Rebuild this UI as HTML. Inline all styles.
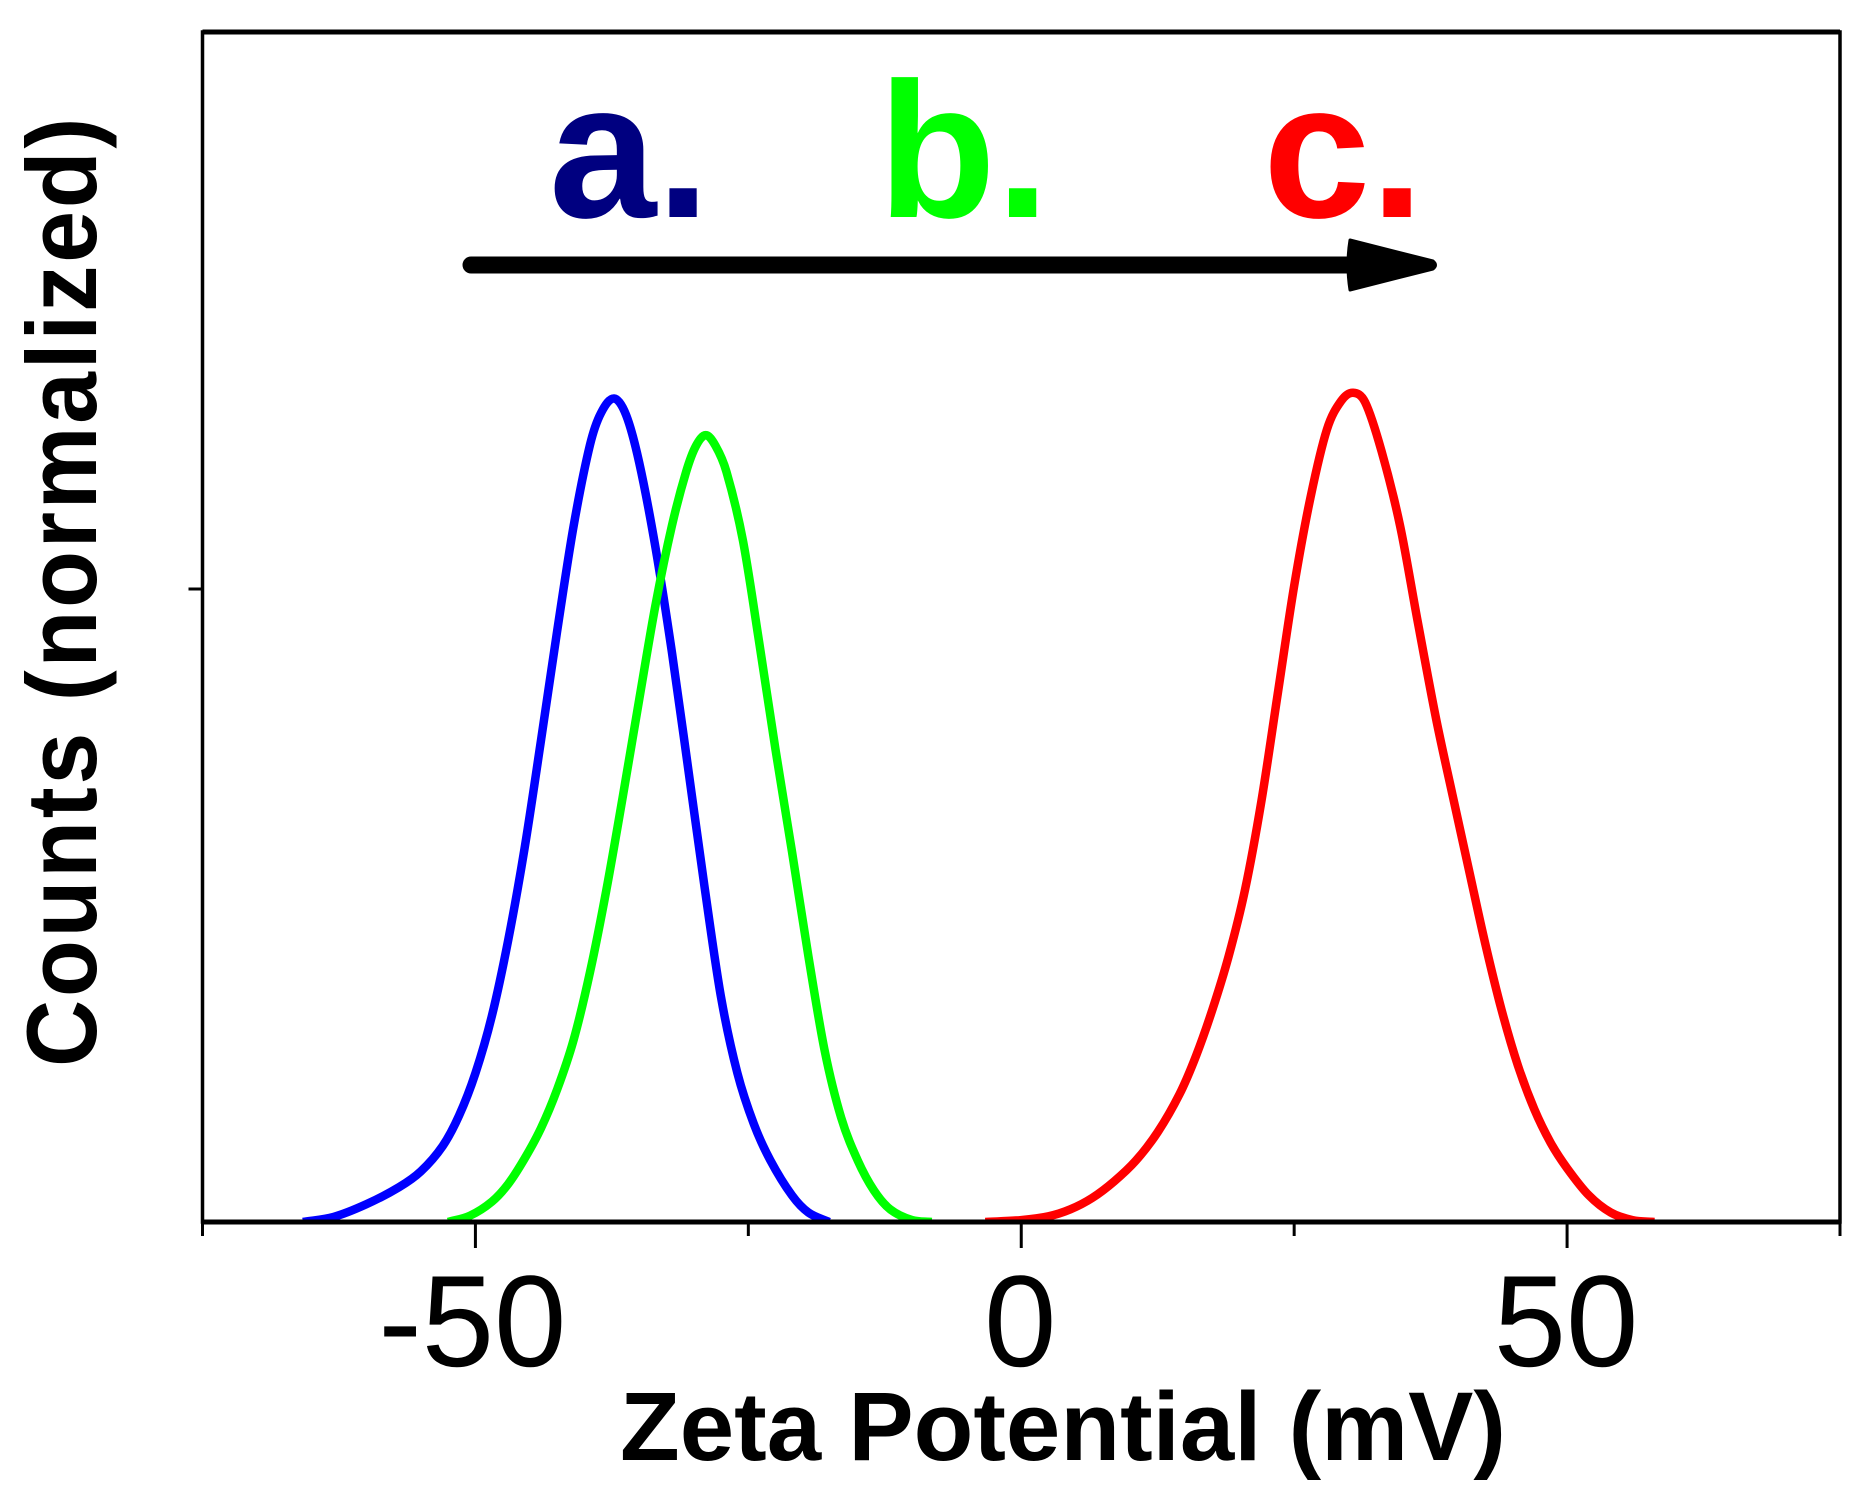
<!DOCTYPE html>
<html lang="en">
<head>
<meta charset="utf-8">
<title>Zeta Potential Distribution</title>
<style>
html,body{margin:0;padding:0;background:#fff;}
svg{display:block;}
text{font-family:"Liberation Sans",Arial,sans-serif;}
</style>
</head>
<body>
<svg id="chart" xmlns="http://www.w3.org/2000/svg" width="1866" height="1503" viewBox="0 0 1866 1503">
  <defs>
    <clipPath id="plot-clip"><rect x="202" y="32" width="1638" height="1190"></rect></clipPath>
  </defs>
  <rect x="0" y="0" width="1866" height="1503" fill="#fff"></rect>
  <g id="series-layer" clip-path="url(#plot-clip)"></g>
  <g id="axis-layer"></g>

  <text x="549" y="217" font-size="193" font-weight="700" fill="#000080">a.</text>
  <text x="878" y="217" font-size="193" font-weight="700" fill="#00ff00">b.</text>
  <text x="1263" y="217" font-size="193" font-weight="700" fill="#ff0000">c.</text>

  <g>
    <line x1="471" y1="265" x2="1360" y2="265" stroke="#000" stroke-width="17" stroke-linecap="round"></line>
    <path d="M1350 240 L1433 261 Q1438 265 1433 269 L1350 290 Q1346 265 1350 240 Z" fill="#000" stroke="#000" stroke-width="3" stroke-linejoin="round"></path>
  </g>

  <text x="620" y="1460" font-size="97" font-weight="700" fill="#000" textLength="886" lengthAdjust="spacingAndGlyphs">Zeta Potential (mV)</text>
  <text transform="translate(96 1067) rotate(-90) scale(0.94 1)" x="0" y="0" font-size="99" font-weight="700" fill="#000" textLength="1010" lengthAdjust="spacing">Counts (normalized)</text>
</svg>
<script>
const xTicksMajor = [-50, 0, 50];
const xTicksMinor = [-75, -25, 25, 75];
const xTickLabels = ["-50", "0", "50"];
const yTicks = [1];

const blueX = [-65.8,-63,-60,-57,-55,-53,-51.5,-50,-48.5,-47,-45.5,-44,-42.5,-41,-39.5,-38.5,-37.3,-36.2,-35,-33.5,-32,-30.5,-29,-27.5,-26,-24.5,-23,-21,-19.5,-17.6];
const blueY = [0,0.008,0.028,0.055,0.080,0.120,0.168,0.235,0.325,0.445,0.590,0.760,0.935,1.100,1.228,1.278,1.301,1.275,1.200,1.065,0.900,0.715,0.528,0.355,0.235,0.155,0.098,0.042,0.015,0];

const greenX = [-52.5,-50.5,-48.5,-47,-45.5,-44,-42.5,-41,-39.5,-38,-36.5,-35,-33.5,-32,-30.7,-29.8,-28.9,-28,-27,-25.5,-24,-22.5,-21,-19.5,-18,-16.5,-15,-13.5,-12,-10,-8.2];
const greenY = [0,0.010,0.032,0.060,0.100,0.148,0.210,0.288,0.395,0.525,0.672,0.825,0.975,1.100,1.185,1.226,1.243,1.226,1.185,1.077,0.915,0.745,0.585,0.420,0.270,0.165,0.098,0.050,0.020,0.003,0];

const redX = [-3.3,0,2.5,4.5,6.5,8.5,10.5,12.5,14.5,16,17.5,19,20.5,22,23.5,25,26.5,28,29.3,30.4,31.5,33,34.7,36.3,38,39.5,41,42.5,44,45.5,47,48.5,50,52,54,56,58];
const redY = [0,0.003,0.009,0.020,0.038,0.064,0.097,0.142,0.202,0.262,0.335,0.420,0.525,0.665,0.835,1.005,1.145,1.252,1.297,1.310,1.295,1.218,1.100,0.950,0.795,0.675,0.557,0.440,0.335,0.247,0.178,0.125,0.085,0.042,0.015,0.003,0];

const SVG_NS = "http://www.w3.org/2000/svg";
const plotLeft = 202.5, plotRight = 1840, plotTop = 32, plotBottom = 1222;
const xMin = -75, xMax = 75;
const yUnitPixels = 633;

function xScale(v) {
  return plotLeft + (v - xMin) / (xMax - xMin) * (plotRight - plotLeft);
}
function yScale(v) {
  return plotBottom - v * yUnitPixels;
}
function smoothPath(xs, ys) {
  const pts = xs.map(function (x, i) { return [xScale(x), yScale(ys[i])]; });
  const n = pts.length;
  const slopes = pts.map(function (p, i) {
    const a = pts[Math.max(0, i - 1)];
    const b = pts[Math.min(n - 1, i + 1)];
    return (b[1] - a[1]) / (b[0] - a[0]);
  });
  let d = "M" + pts[0][0].toFixed(2) + " " + pts[0][1].toFixed(2);
  for (let i = 0; i < n - 1; i++) {
    const p1 = pts[i];
    const p2 = pts[i + 1];
    const h = (p2[0] - p1[0]) / 3;
    d += " C" + (p1[0] + h).toFixed(2) + " " + (p1[1] + slopes[i] * h).toFixed(2) + " " + (p2[0] - h).toFixed(2) + " " + (p2[1] - slopes[i + 1] * h).toFixed(2) + " " + p2[0].toFixed(2) + " " + p2[1].toFixed(2);
  }
  return d;
}

const seriesLayer = document.getElementById("series-layer");
const axisLayer = document.getElementById("axis-layer");

const blueLine = document.createElementNS(SVG_NS, "path");


blueLine.setAttribute("d", smoothPath(blueX, blueY));
blueLine.setAttribute("fill", "none");
blueLine.setAttribute("stroke", "#0000ff");
blueLine.setAttribute("stroke-width", "8.5");
seriesLayer.appendChild(blueLine);

const greenLine = document.createElementNS(SVG_NS, "path");


greenLine.setAttribute("d", smoothPath(greenX, greenY));
greenLine.setAttribute("fill", "none");
greenLine.setAttribute("stroke", "#00ff00");
greenLine.setAttribute("stroke-width", "8.5");
seriesLayer.appendChild(greenLine);

const redLine = document.createElementNS(SVG_NS, "path");


redLine.setAttribute("d", smoothPath(redX, redY));
redLine.setAttribute("fill", "none");
redLine.setAttribute("stroke", "#ff0000");
redLine.setAttribute("stroke-width", "8.5");
seriesLayer.appendChild(redLine);

const frame = document.createElementNS(SVG_NS, "rect");


frame.setAttribute("x", plotLeft);
frame.setAttribute("y", plotTop);
frame.setAttribute("width", plotRight - plotLeft);
frame.setAttribute("height", plotBottom - plotTop);
frame.setAttribute("fill", "none");
frame.setAttribute("stroke", "#000");
frame.setAttribute("stroke-width", "3.5");
axisLayer.appendChild(frame);

const topEdge = document.createElementNS(SVG_NS, "line");


topEdge.setAttribute("x1", plotLeft);
topEdge.setAttribute("x2", plotRight);
topEdge.setAttribute("y1", plotTop);
topEdge.setAttribute("y2", plotTop);
topEdge.setAttribute("stroke", "#000");
topEdge.setAttribute("stroke-width", "5");
axisLayer.appendChild(topEdge);

const xAxisLine = document.createElementNS(SVG_NS, "line");


xAxisLine.setAttribute("x1", plotLeft);
xAxisLine.setAttribute("x2", plotRight);
xAxisLine.setAttribute("y1", plotBottom);
xAxisLine.setAttribute("y2", plotBottom);
xAxisLine.setAttribute("stroke", "#000");
xAxisLine.setAttribute("stroke-width", "5");
axisLayer.appendChild(xAxisLine);

xTicksMajor.forEach(function (v, i) {
  const tick = document.createElementNS(SVG_NS, "line");
  
  
  tick.setAttribute("x1", xScale(v));
  tick.setAttribute("x2", xScale(v));
  tick.setAttribute("y1", plotBottom);
  tick.setAttribute("y2", plotBottom + 26);
  tick.setAttribute("stroke", "#000");
  tick.setAttribute("stroke-width", "3");
  axisLayer.appendChild(tick);

  const label = document.createElementNS(SVG_NS, "text");
  
  
  label.setAttribute("x", xScale(v) - (v < 0 ? 3 : 1));
  label.setAttribute("y", 1366);
  label.setAttribute("font-size", "130");
  label.setAttribute("text-anchor", "middle");
  label.setAttribute("fill", "#000");
  label.textContent = xTickLabels[i];
  axisLayer.appendChild(label);
});

xTicksMinor.forEach(function (v) {
  const tick = document.createElementNS(SVG_NS, "line");
  
  
  tick.setAttribute("x1", xScale(v));
  tick.setAttribute("x2", xScale(v));
  tick.setAttribute("y1", plotBottom);
  tick.setAttribute("y2", plotBottom + 14);
  tick.setAttribute("stroke", "#000");
  tick.setAttribute("stroke-width", "3");
  axisLayer.appendChild(tick);
});

yTicks.forEach(function (v) {
  const tick = document.createElementNS(SVG_NS, "line");
  
  
  tick.setAttribute("x1", plotLeft - 14);
  tick.setAttribute("x2", plotLeft);
  tick.setAttribute("y1", yScale(v));
  tick.setAttribute("y2", yScale(v));
  tick.setAttribute("stroke", "#000");
  tick.setAttribute("stroke-width", "3");
  axisLayer.appendChild(tick);
});
</script>
</body>
</html>
